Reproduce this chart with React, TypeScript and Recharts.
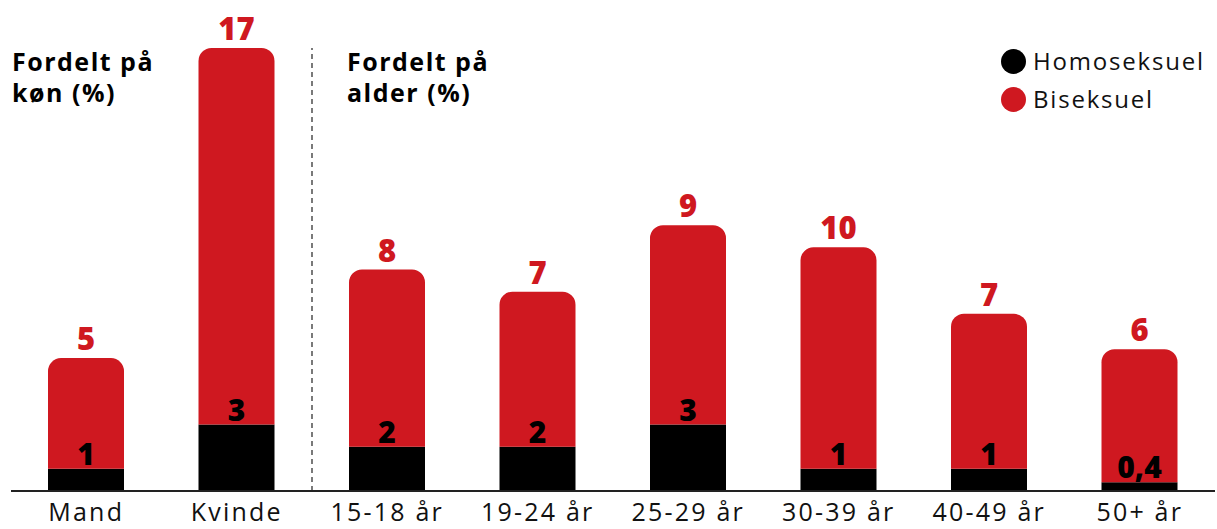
import React from "react";
import { Bar, BarChart, LabelList, ReferenceLine, XAxis, YAxis } from "recharts";

const categories = ["Mand", "Kvinde", "15-18 år", "19-24 år", "25-29 år", "30-39 år", "40-49 år", "50+ år"];
const homoseksuel = [1, 3, 2, 2, 3, 1, 1, 0.4];
const biseksuel = [5, 17, 8, 7, 9, 10, 7, 6];

const data = categories.map((name, i) => ({ name, homo: homoseksuel[i], bi: biseksuel[i] }));

const RED = "#cf1820";
const FONT = "'Open Sans', sans-serif";

const legendItems = [
  { label: "Homoseksuel", color: "#000" },
  { label: "Biseksuel", color: RED },
];

const fmt = (v: any) => String(v).replace(".", ",");

const titleStyle: React.CSSProperties = {
  position: "absolute",
  fontFamily: FONT,
  fontWeight: 700,
  fontSize: 25,
  letterSpacing: 1.5,
  lineHeight: "31px",
  color: "#000",
};

export default function App() {
  return (
    <div style={{ position: "absolute", left: 0, top: 0, width: 1217, height: 529, background: "#fff" }}>
      <BarChart width={1217} height={529} data={data} margin={{ top: 48, right: 2, bottom: 0, left: 11 }} barSize={76}>
        <XAxis
          dataKey="name"
          height={38}
          tickLine={false}
          axisLine={{ stroke: "#222", strokeWidth: 2 }}
          tick={{ fontFamily: FONT, fontSize: 25, fill: "#111", letterSpacing: 2.2 } as any}
          tickMargin={6}
        />
        <YAxis hide domain={[0, 20]} />
        <ReferenceLine x="15-18 år" position="start" stroke="#222" strokeWidth={1.2} strokeDasharray="5 4" />
        <Bar dataKey="homo" name="Homoseksuel" stackId="a" fill="#000" isAnimationActive={false}>
          <LabelList dataKey="homo" position="top" offset={4} formatter={fmt} fill="#000" style={{ fontFamily: FONT, fontWeight: 800, fontSize: 30 }} />
        </Bar>
        <Bar dataKey="bi" name="Biseksuel" stackId="a" fill={RED} radius={[13, 13, 0, 0]} isAnimationActive={false}>
          <LabelList dataKey="bi" position="top" offset={8} formatter={fmt} fill={RED} style={{ fontFamily: FONT, fontWeight: 800, fontSize: 31 }} />
        </Bar>
      </BarChart>
      <div style={{ ...titleStyle, left: 12, top: 46 }}>Fordelt på<br />køn (%)</div>
      <div style={{ ...titleStyle, left: 347, top: 46 }}>Fordelt på<br />alder (%)</div>
      <div style={{ position: "absolute", left: 1001, top: 42, fontFamily: FONT, fontSize: 24, letterSpacing: 1.8, color: "#111", lineHeight: "38px" }}>
        {legendItems.map((it) => (
          <div key={it.label} style={{ display: "flex", alignItems: "center" }}>
            <span style={{ width: 25, height: 25, borderRadius: "50%", background: it.color, marginRight: 7, display: "inline-block" }} />
            {it.label}
          </div>
        ))}
      </div>
    </div>
  );
}
